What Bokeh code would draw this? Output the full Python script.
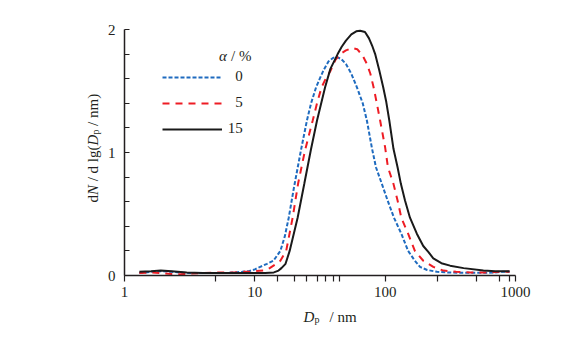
import math
from bokeh.plotting import figure
from bokeh.models import FixedTicker, Label, Legend, LegendItem, Range1d
from bokeh.embed import file_html
from bokeh.resources import INLINE

# ---------------- data ----------------
series_names = ["0", "5", "15"]

d_0 = [1.3, 1.6, 1.9, 2.3, 3, 4, 5, 6, 7, 8, 9, 10, 11, 12.4, 13.9, 15.7, 17, 18.2, 20,
       22.6, 25.1, 27, 29.5, 31.5, 33.7, 36.7, 40, 42.9, 46, 50, 55, 60.7, 67.3, 72.4, 79,
       85, 94.3, 104.4, 116.8, 133, 150, 169, 185, 210, 250, 300, 400, 500, 600, 700, 800, 900]
n_0 = [0.02, 0.03, 0.035, 0.03, 0.02, 0.02, 0.02, 0.02, 0.025, 0.03, 0.035, 0.05, 0.07, 0.095,
       0.12, 0.2, 0.32, 0.47, 0.72, 1.02, 1.26, 1.4, 1.53, 1.6, 1.67, 1.74, 1.77, 1.775, 1.76,
       1.72, 1.64, 1.53, 1.40, 1.26, 1.04, 0.88, 0.745, 0.61, 0.47, 0.34, 0.2, 0.12, 0.07,
       0.045, 0.03, 0.025, 0.022, 0.022, 0.022, 0.025, 0.03, 0.03]

d_5 = [1.3, 1.6, 1.9, 2.3, 2.7, 3.2, 4, 5, 6, 7, 8, 9, 10, 11.7, 13, 14.6, 15.7, 17.4, 19.5,
       21.5, 24.3, 27.8, 30, 32.5, 35, 37.9, 41.4, 45, 50, 55.6, 61, 67, 72.4, 77, 81.5, 86.3,
       91.5, 100, 105, 115.8, 124.5, 133, 150, 169, 196, 234, 280, 350, 450, 600, 750, 900]
n_5 = [0.02, 0.025, 0.02, 0.012, 0.01, 0.015, 0.02, 0.025, 0.025, 0.025, 0.03, 0.03, 0.035,
       0.04, 0.06, 0.095, 0.12, 0.2, 0.47, 0.75, 1.02, 1.26, 1.40, 1.53, 1.60, 1.66, 1.75,
       1.80, 1.83, 1.85, 1.84, 1.79, 1.72, 1.64, 1.53, 1.40, 1.26, 1.04, 0.88, 0.745, 0.61,
       0.47, 0.34, 0.2, 0.12, 0.07, 0.04, 0.03, 0.025, 0.025, 0.03, 0.03]

d_15 = [1.3, 1.6, 1.9, 2.3, 3, 4, 5, 6, 8, 10, 12, 14, 15.2, 16, 17.2, 18.5, 21.3, 24, 26.9,
        30, 34.6, 38, 43.2, 46.4, 50, 55, 60, 64.3, 70, 75, 80, 83.8, 90, 96.6, 102, 107.6,
        115.8, 124.5, 132, 142, 155, 175, 196, 215, 234, 270, 315, 400, 567, 700, 800, 900]
n_15 = [0.03, 0.035, 0.04, 0.035, 0.025, 0.02, 0.02, 0.02, 0.02, 0.02, 0.02, 0.025, 0.04, 0.06,
        0.095, 0.2, 0.47, 0.75, 1.02, 1.26, 1.53, 1.68, 1.80, 1.86, 1.91, 1.96, 1.985, 1.99,
        1.98, 1.93, 1.86, 1.80, 1.67, 1.53, 1.41, 1.26, 1.03, 0.88, 0.745, 0.61, 0.47, 0.34,
        0.24, 0.19, 0.14, 0.10, 0.08, 0.06, 0.04, 0.035, 0.035, 0.035]

x_major = [1, 10, 100, 1000]
x_minor = [5, 15, 20, 25, 30, 35, 40, 45, 250, 500, 750, 900]
y_major = [0, 1, 2]
y_minor = [0.2, 0.4, 0.6, 0.8, 1.2, 1.4, 1.6, 1.8]

# ---------------- layout ----------------
W, H = 574, 342
AL, AR, AT, AB = 124, 515, 29, 275   # where x=1..1000 and y=2..0 sit, in pixels
FONT = "Liberation Serif"
DEC = (AR - AL) / 3.0
UNIT = (AB - AT) / 2.0


def fx(px):
    return 10 ** ((px - AL) / DEC)


def fy(py):
    return (AB - py) / UNIT


p = figure(width=W, height=H, x_axis_type="log",
           x_range=Range1d(fx(0), fx(W)), y_range=Range1d(fy(H), fy(0)),
           output_backend="svg", toolbar_location=None,
           min_border=0, min_border_left=0, min_border_right=0,
           min_border_top=0, min_border_bottom=0)
p.outline_line_color = None
p.xgrid.visible = False
p.ygrid.visible = False
p.background_fill_color = "white"
p.border_fill_color = "white"

AX = "#231f20"
for ax in (p.xaxis[0], p.yaxis[0]):
    ax.axis_line_color = AX
    ax.axis_line_width = 1.5
    ax.major_tick_line_color = AX
    ax.minor_tick_line_color = AX
    ax.major_tick_line_width = 1.2
    ax.minor_tick_line_width = 1.2
    ax.major_label_text_font = FONT
    ax.major_label_text_font_size = "15px"
    ax.major_label_text_color = AX

p.xaxis.fixed_location = 0
p.xaxis.bounds = (1, 1000)
p.xaxis.ticker = FixedTicker(ticks=x_major, minor_ticks=x_minor)
p.xaxis.major_label_overrides = {v: str(v) for v in x_major}
p.xaxis.major_tick_in = 0
p.xaxis.major_tick_out = 6
p.xaxis.minor_tick_in = 0
p.xaxis.minor_tick_out = 6
p.xaxis.major_label_standoff = 5

p.yaxis.fixed_location = 1
p.yaxis.bounds = (0, 2)
p.yaxis.ticker = FixedTicker(ticks=y_major, minor_ticks=y_minor)
p.yaxis.major_label_overrides = {v: str(v) for v in y_major}
p.yaxis.major_tick_in = 5
p.yaxis.major_tick_out = 0
p.yaxis.minor_tick_in = 5
p.yaxis.minor_tick_out = 0
p.yaxis.major_label_standoff = 9

# ---------------- curves ----------------
styles = [
    (d_0, n_0, "#1f6bbf", "4 2"),
    (d_5, n_5, "#ee1c24", "7 6"),
    (d_15, n_15, "#1a1a1a", "solid"),
]
renderers = []
for xs, ys, col, dash in styles:
    r = p.line(xs, ys, line_color=col, line_width=2, line_dash=dash)
    renderers.append(r)

# ---------------- legend ----------------
FIG = "\u2007"
items = [LegendItem(label=FIG + series_names[0], renderers=[renderers[0]]),
         LegendItem(label=FIG + series_names[1], renderers=[renderers[1]]),
         LegendItem(label=series_names[2], renderers=[renderers[2]])]
row_center0 = 76.7
glyph_h, spacing = 20, 6
leg_h = 3 * glyph_h + 2 * spacing
leg_top = row_center0 - glyph_h / 2
legend = Legend(items=items, location=(161.7, H - (leg_top + leg_h)),
                glyph_width=60, glyph_height=glyph_h, label_height=glyph_h,
                spacing=spacing, padding=0, margin=0, label_standoff=6,
                label_text_font=FONT, label_text_font_size="15px",
                label_text_color=AX,
                border_line_color=None, background_fill_alpha=0)
p.add_layout(legend)


# ---------------- text labels ----------------
def lab(px, py, text, size="15px", style="normal", angle=0.0):
    p.add_layout(Label(x=fx(px), y=fy(py), text=text, text_font=FONT,
                       text_font_size=size, text_font_style=style,
                       text_color=AX, angle=angle,
                       text_align="left", text_baseline="alphabetic"))


# x-axis label: D_p / nm
lab(303, 316, "D", style="italic")
lab(314, 319, "p", size="10px")
lab(329, 316, "/ nm")

# y-axis label (rotated): dN / d lg(D_p / nm)
A = math.pi / 2
bx = 92
lab(bx, 202, "d", angle=A)
lab(bx, 194.5, "N", style="italic", angle=A)
lab(bx, 180.8, "/ d lg(", angle=A)
lab(bx, 144.9, "D", style="italic", angle=A)
lab(bx + 3, 134.1, "p", size="10px", angle=A)
lab(bx, 125.4, "/ nm)", angle=A)

# legend title: alpha / %
lab(218.5, 55, "\u03b1", style="italic")
lab(230.5, 55, "/ %")

open("out.html", "w").write(file_html(p, INLINE))
